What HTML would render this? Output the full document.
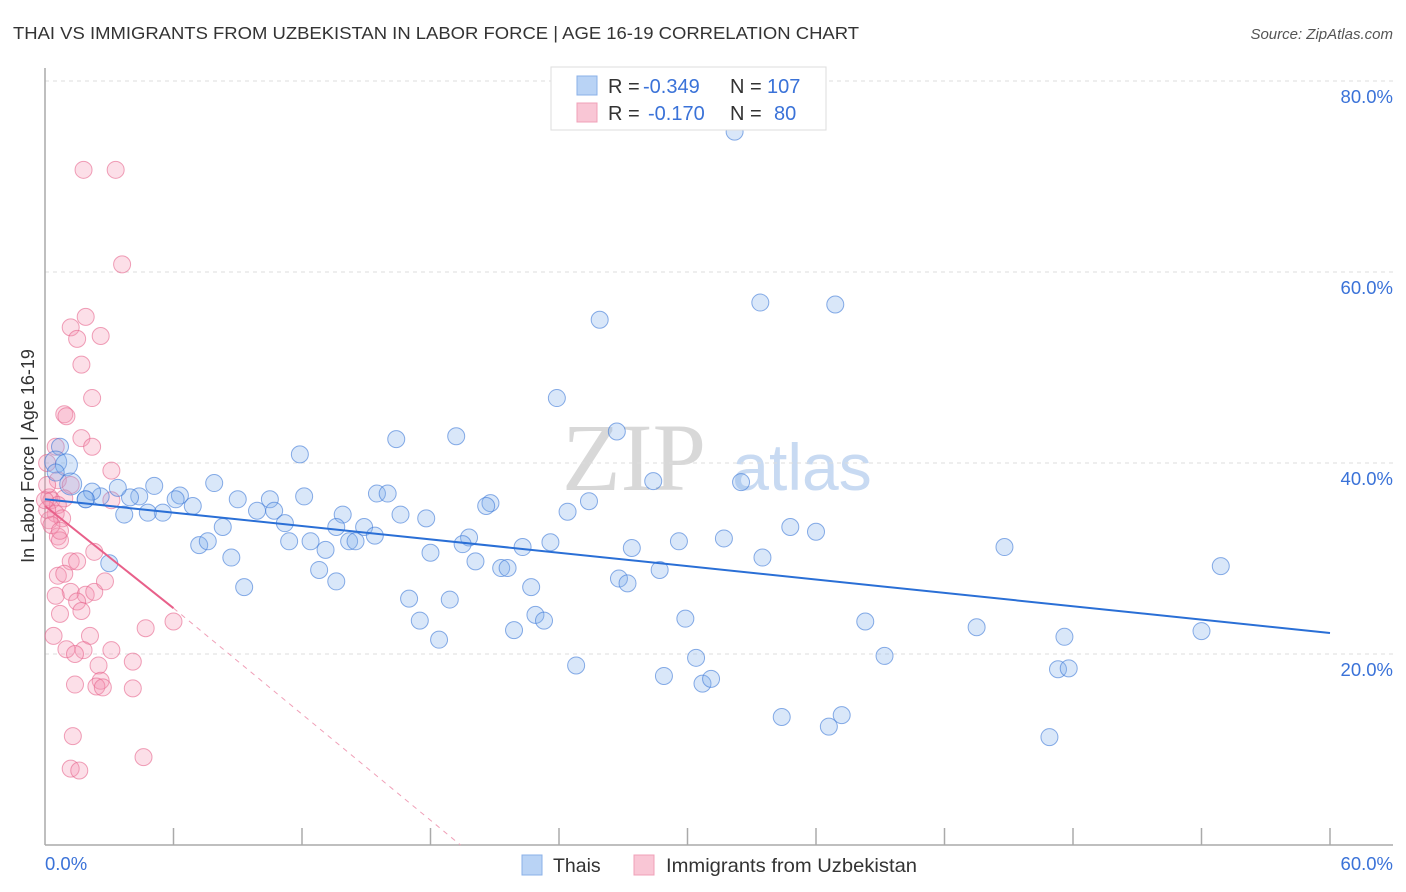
<!DOCTYPE html>
<html><head><meta charset="utf-8"><style>
body{margin:0;background:#fff;font-family:"Liberation Sans",sans-serif}
svg{display:block}
</style></head><body>
<svg id="chart" width="1406" height="892" xmlns="http://www.w3.org/2000/svg">
<text x="13" y="39" font-size="17.5" fill="#333" textLength="846" lengthAdjust="spacingAndGlyphs">THAI VS IMMIGRANTS FROM UZBEKISTAN IN LABOR FORCE | AGE 16-19 CORRELATION CHART</text>
<text x="1393" y="39" font-size="15" fill="#555" font-style="italic" text-anchor="end">Source: ZipAtlas.com</text>
<text x="634" y="490" font-size="96" fill="#d8d8d8" font-family="Liberation Serif" text-anchor="middle">ZIP</text>
<text x="802" y="490" font-size="66" fill="#c8daf2" text-anchor="middle">atlas</text>
<g id="grid"></g>
<g id="axes"></g>
<g id="pts"></g>
<g id="lines"></g>
<text transform="translate(34,456) rotate(-90)" font-size="18" fill="#333" text-anchor="middle">In Labor Force | Age 16-19</text>
<g>
<rect x="551" y="67" width="275" height="63" fill="#fff" stroke="#ddd"/>
<rect x="577" y="76" width="20" height="19" fill="#b9d3f5" stroke="#8ab0e8"/>
<rect x="577" y="103" width="20" height="19" fill="#f9c6d5" stroke="#f0a0b8"/>
<text x="608" y="93" font-size="20" fill="#333">R = <tspan fill="#3a72d8" x="643">-0.349</tspan><tspan x="730">N = </tspan><tspan fill="#3a72d8" x="767">107</tspan></text>
<text x="608" y="120" font-size="20" fill="#333">R = <tspan fill="#3a72d8" x="648">-0.170</tspan><tspan x="730">N = </tspan><tspan fill="#3a72d8" x="774">80</tspan></text>
</g>
<g>
<rect x="522" y="855" width="20" height="20" fill="#b9d3f5" stroke="#8ab0e8"/>
<text x="553" y="872" font-size="19.5" fill="#333">Thais</text>
<rect x="634" y="855" width="20" height="20" fill="#f9c6d5" stroke="#f0a0b8"/>
<text x="666" y="872" font-size="19.5" fill="#333" textLength="251" lengthAdjust="spacingAndGlyphs">Immigrants from Uzbekistan</text>
</g>
</svg>
<script>
const xTicks=[0,6,12,18,24,30,36,42,48,54,60];
const yTicks=[20,40,60,80];
const thaiX=[32.2,33.4,36.9,25.9,23.9,26.7,19.2,16.4,11.9,28.4,32.5,7.9,5.1,15.5,16,12.1,25.4,20.8,20.6,9,10.5,6.3,6.1,4.4,3.970,3.4,2.6,1.9,2.2,5.5,4.8,3.7,6.9,9.9,10.7,13.9,16.6,17.8,24.4,8.3,11.2,13.6,14.9,15.4,14.2,14.5,19.8,11.4,12.4,34.8,36,7.2,7.6,8.7,13.1,18,19.5,22.3,23.6,27.4,29.6,31.7,33.5,44.8,54.9,12.8,20.1,21.3,21.6,26.8,27.2,28.7,22.7,9.3,13.6,17.0,18.9,17.5,22.9,23.3,29.9,38.3,43.5,54,47.6,21.9,18.4,24.8,30.4,39.2,47.3,47.8,28.9,30.7,31.1,34.4,37.2,36.6,46.9,3,0.7,0.5,1,1.2,0.5,1.9];
const thaiY=[74.7,56.8,56.6,55,46.8,43.3,42.8,42.5,40.9,38.1,38,37.9,37.6,36.8,36.8,36.5,36,35.8,35.5,36.2,36.2,36.6,36.2,36.5,36.4,37.4,36.5,36.2,37,34.8,34.8,34.6,35.5,35,35,34.6,34.6,34.2,34.9,33.3,33.7,33.3,33.3,32.4,31.8,31.8,32.2,31.8,31.8,33.3,32.8,31.4,31.8,30.1,30.9,30.6,31.5,31.2,31.7,31.1,31.8,32.1,30.1,31.2,29.2,28.8,29.7,29,29,27.9,27.4,28.8,27,27,27.6,25.8,25.7,23.5,24.1,23.5,23.7,23.4,22.8,22.4,21.8,22.5,21.5,18.8,19.6,19.8,18.4,18.5,17.7,16.9,17.4,13.4,13.6,12.4,11.3,29.5,41.7,40.1,39.8,37.8,39,36.2];
const uzX=[1.8,3.3,3.6,1.9,1.2,1.5,2.6,1.7,2.2,0.9,1.0,0.5,1.7,2.2,0.1,3.1,0.6,1.2,0.2,0.3,0.9,3.1,0.6,0.5,0.8,0.2,0.6,0.7,2.3,1.2,1.5,0.6,0.9,1.2,0.5,1.9,2.3,2.8,1.5,1.7,0.7,4.7,6,0.4,1,2.1,1.8,1.4,2.5,4.1,3.1,1.4,2.6,2.4,2.7,4.1,1.3,1.2,1.6,4.6,0.1,0.1,0.3,0.7,0];
const uzY=[70.7,70.7,60.8,55.3,54.2,53,53.3,50.3,46.8,45.1,44.9,41.7,42.6,41.7,40,39.2,38.2,37.7,36.4,36.1,36.3,36.1,35.6,34.7,34.2,34,32.3,31.9,30.7,29.7,29.7,28.2,28.4,26.5,26.1,26.2,26.5,27.6,25.5,24.5,24.2,22.7,23.4,21.9,20.5,21.9,20.4,20,18.8,19.2,20.4,16.8,17.2,16.6,16.5,16.4,11.4,8,7.8,9.2,37.7,35.1,33.5,32.9,36.1];
const thaiTrend=[[0,36.2],[60,22.2]];
const uzSolid=[[0,35.5],[6,24.8]];
const uzDash=[[6,24.8],[19.4,0]];
const NS="http://www.w3.org/2000/svg";
const X0=45,X1=1330,Y0=845,Y80=81;
const sx=v=>X0+(v/60)*(X1-X0);
const sy=v=>Y0-(v/80)*(Y0-Y80);
function mk(tag,at,parent){const e=document.createElementNS(NS,tag);for(const k in at)e.setAttribute(k,at[k]);parent.appendChild(e);return e;}
const grid=document.getElementById('grid'),axes=document.getElementById('axes'),pts=document.getElementById('pts'),lines=document.getElementById('lines');
yTicks.forEach(t=>{
 const l=mk('line',{x1:X0,x2:1393,y1:sy(t),y2:sy(t),stroke:'#ddd','stroke-dasharray':'4,4'},grid);
 
 
 const tx=mk('text',{x:1393,y:sy(t)+22,'font-size':18.5,fill:'#3a72d8','text-anchor':'end'},grid);
 tx.textContent=t.toFixed(1)+'%';
 
 
});
const ya=mk('line',{x1:X0,x2:X0,y1:68,y2:Y0,stroke:'#aaa','stroke-width':1.5},axes);


const xa=mk('line',{x1:X0,x2:1393,y1:Y0,y2:Y0,stroke:'#aaa','stroke-width':1.5},axes);


xTicks.forEach(t=>{
 if(t>0){const k=mk('line',{x1:sx(t),x2:sx(t),y1:828,y2:Y0,stroke:'#aaa','stroke-width':1.5},axes);
 
 }
});
[[0,'start',45],[60,'end',1393]].forEach(([t,a,x])=>{
 const tx=mk('text',{x:x,y:870,'font-size':18.5,fill:'#3a72d8','text-anchor':a},axes);
 tx.textContent=t.toFixed(1)+'%';
 
 
});
uzX.forEach((v,i)=>{
 const c=mk('circle',{cx:sx(v),cy:sy(uzY[i]),r:8.5,fill:'rgba(245,150,180,0.3)',stroke:'rgba(230,100,140,0.6)','stroke-width':1},pts);
 
 
});
thaiX.forEach((v,i)=>{
 const c=mk('circle',{cx:sx(v),cy:sy(thaiY[i]),r:i>=101&&i<=103?11:8.5,fill:'rgba(130,175,235,0.3)',stroke:'rgba(60,120,215,0.6)','stroke-width':1},pts);
 
 
});
function ln(p,st,w,dash,name){const l=mk('line',{x1:sx(p[0][0]),y1:sy(p[0][1]),x2:sx(p[1][0]),y2:sy(p[1][1]),stroke:st,'stroke-width':w},lines);if(dash)l.setAttribute('stroke-dasharray',dash);
 
 }
ln(thaiTrend,'#2a6fd6',2,null,'thai-trend-line');
ln(uzSolid,'#e8608a',2,null,'uzbekistan-trend-line');
ln(uzDash,'#f0a0b8',1,'5,5','uzbekistan-trend-extension');
</script>
</body></html>
